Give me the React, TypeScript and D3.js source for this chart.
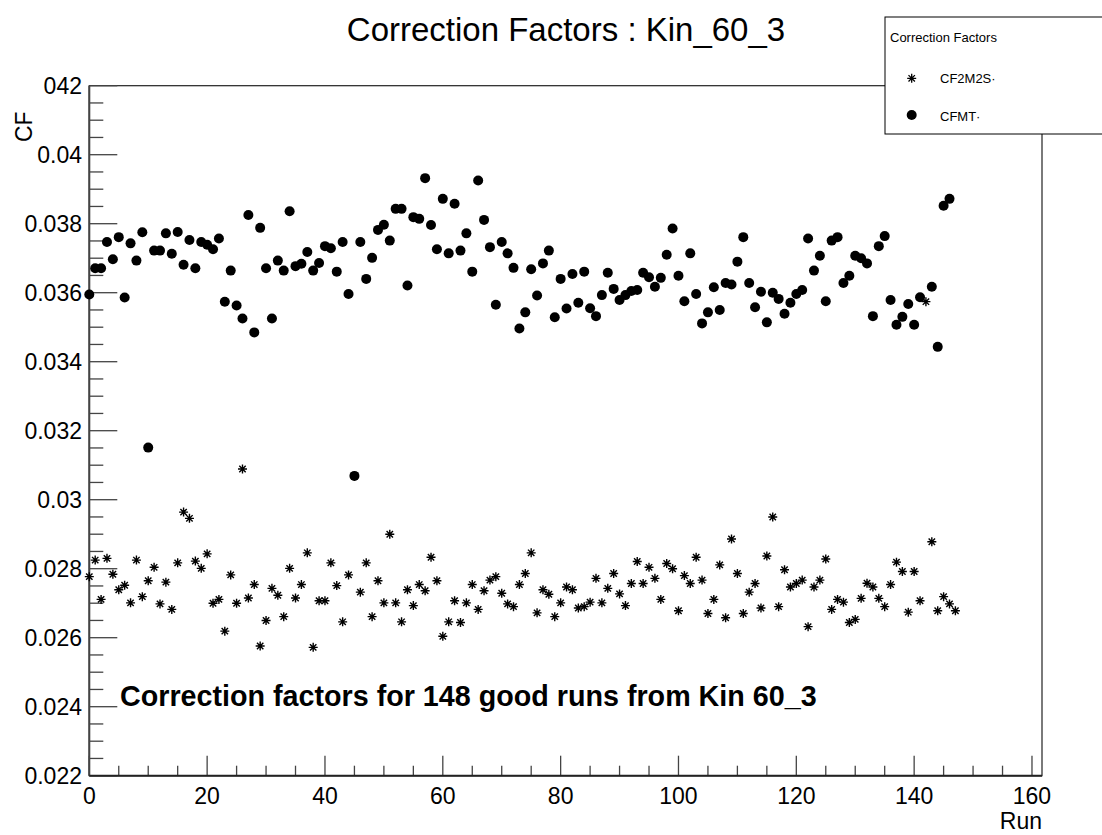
import React from "react";
import * as d3 from "d3";

// Correction factors per good run (index = run number)
const CF2M2S: (number | null)[] = [
  0.02777, 0.02825, 0.02711, 0.0283, 0.02784, 0.02739, 0.02752, 0.02701, 0.02825, 0.02719,
  0.02765, 0.02804, 0.02698, 0.02761, 0.02682, 0.02817, 0.02964, 0.02946, 0.02822, 0.02801,
  0.02843, 0.027, 0.02711, 0.02619, 0.02782, 0.027, 0.03089, 0.02715, 0.02754, 0.02576,
  0.0265, 0.02743, 0.02723, 0.02661, 0.02801, 0.02715, 0.02754, 0.02846, 0.02572, 0.02707,
  0.02707, 0.02817, 0.02751, 0.02646, 0.02782, 0.03069, 0.02732, 0.02817, 0.02661, 0.02765,
  0.02701, 0.029, 0.02701, 0.02646, 0.02739, 0.02693, 0.02754, 0.02736, 0.02833, 0.02765,
  0.02604, 0.02646, 0.02707, 0.02644, 0.02701, 0.02754, 0.02682, 0.02736, 0.02767, 0.02777,
  0.02729, 0.02698, 0.0269, 0.02754, 0.02786, 0.02846, 0.02672, 0.02739, 0.02726, 0.02661,
  0.02701, 0.02747, 0.02739, 0.02686, 0.0269, 0.02703, 0.02772, 0.02701, 0.02743, 0.02786,
  0.02727, 0.02693, 0.02757, 0.02821, 0.02757, 0.02804, 0.02772, 0.02711, 0.02815, 0.028,
  0.02678, 0.0278, 0.02757, 0.02833, 0.02767, 0.0267, 0.02711, 0.02811, 0.02658, 0.02886,
  0.02786, 0.0267, 0.02732, 0.02757, 0.02686, 0.02837, 0.0295, 0.0269, 0.02797, 0.02747,
  0.02757, 0.02767, 0.02632, 0.02747, 0.02767, 0.02828, 0.02682, 0.02711, 0.02703, 0.02644,
  0.02653, 0.02714, 0.02758, 0.02747, 0.02714, 0.0269, 0.02754, 0.02819, 0.02792, 0.02674,
  0.02792, 0.02707, 0.03574, 0.02878, 0.02678, 0.02719, 0.02698, 0.02678,
];

const CFMT: (number | null)[] = [
  0.03595, 0.03671, 0.03671, 0.03747, 0.03697, 0.03761, 0.03586, 0.03743, 0.03693, 0.03775,
  0.03151, 0.03722, 0.03722, 0.03772, 0.03713, 0.03776, 0.03681, 0.03753, 0.03671, 0.03747,
  0.03739, 0.03726, 0.03757, 0.03574, 0.03664, 0.03563, 0.03525, 0.03825, 0.03485, 0.03788,
  0.03671, 0.03525, 0.03693, 0.03664, 0.03836, 0.03677, 0.03684, 0.03718, 0.03664, 0.03686,
  0.03735, 0.03729, 0.03661, 0.03747, 0.03596, 0.03069, 0.03747, 0.0364, 0.03701, 0.03782,
  0.03797, 0.03751, 0.03843, 0.03843, 0.03621, 0.03819, 0.03814, 0.03932, 0.03796, 0.03726,
  0.03872, 0.03714, 0.03858, 0.03722, 0.03772, 0.03661, 0.03925, 0.03811, 0.03732, 0.03565,
  0.03747, 0.03714, 0.03672, 0.03496, 0.03543, 0.03668, 0.03592, 0.03685, 0.03722, 0.03529,
  0.0364, 0.03554, 0.03654, 0.03571, 0.03661, 0.03555, 0.03532, 0.03593, 0.03658, 0.03611,
  0.03579, 0.03593, 0.03605, 0.03608, 0.03658, 0.03645, 0.03617, 0.03643, 0.0371, 0.03786,
  0.03649, 0.03575, 0.03714, 0.03596, 0.03511, 0.03543, 0.03616, 0.0355, 0.03628, 0.03624,
  0.0369, 0.03761, 0.03628, 0.03558, 0.03603, 0.03514, 0.036, 0.03582, 0.03539, 0.03571,
  0.03596, 0.03608, 0.03757, 0.03664, 0.03707, 0.03575, 0.03751, 0.03761, 0.03628, 0.03649,
  0.03707, 0.037, 0.03685, 0.03532, 0.03735, 0.03764, 0.03579, 0.03507, 0.0353, 0.03567,
  0.03507, 0.03587, null, 0.03617, 0.03443, 0.03852, 0.03872, null,
];

const X_TICKS = [0, 20, 40, 60, 80, 100, 120, 140, 160];
const X_TICK_LABELS = ["0", "20", "40", "60", "80", "100", "120", "140", "160"];
const Y_TICKS = [0.022, 0.024, 0.026, 0.028, 0.03, 0.032, 0.034, 0.036, 0.038, 0.04, 0.042];
const Y_TICK_LABELS = ["0.022", "0.024", "0.026", "0.028", "0.03", "0.032", "0.034", "0.036", "0.038", "0.04", "0.042"];

const TITLE = "Correction Factors : Kin_60_3";
const NOTE = "Correction factors for 148 good runs from Kin 60_3";
const LEGEND_TITLE = "Correction Factors";
const SERIES_NAMES = ["CF2M2S\u00b7", "CFMT\u00b7"];

const W = 1102;
const H = 835;
const FRAME = { left: 89.3, right: 1042, top: 85.7, bottom: 775.7 };
const FONT = "'Liberation Sans', Arial, Helvetica, sans-serif";
const AXIS = "#444";

const STAR = "M-4.5,0H4.5M0,-4.5V4.5M-3.2,-3.2L3.2,3.2M-3.2,3.2L3.2,-3.2";

export default function App() {
  const x = d3.scaleLinear().domain([0, 161.7]).range([FRAME.left, FRAME.right]);
  const y = d3.scaleLinear().domain([0.022, 0.042]).range([FRAME.bottom, FRAME.top]);

  const xMinor = d3.range(0, 161, 5);
  const yMinor = d3.range(0, 41).map((k) => 0.022 + k * 0.0005);

  const stars = CF2M2S.map((v, i) => ({ i, v })).filter((d) => d.v !== null) as { i: number; v: number }[];
  const dots = CFMT.map((v, i) => ({ i, v })).filter((d) => d.v !== null) as { i: number; v: number }[];

  return (
    <svg
      width={W}
      height={H}
      style={{ position: "absolute", left: 0, top: 0, background: "#fff" }}
      fontFamily={FONT}
    >
      <rect x={0} y={0} width={W} height={H} fill="#fff" />

      {/* frame */}
      <rect
        x={FRAME.left}
        y={FRAME.top}
        width={FRAME.right - FRAME.left}
        height={FRAME.bottom - FRAME.top}
        fill="none"
        stroke="#222"
        strokeWidth={1.2}
      />

      {/* y ticks */}
      {yMinor.map((v, k) => (
        <line
          key={"ym" + k}
          x1={FRAME.left}
          x2={FRAME.left + (k % 4 === 0 ? 28 : 14)}
          y1={y(v)}
          y2={y(v)}
          stroke={AXIS}
          strokeWidth={1.3}
        />
      ))}
      {/* x ticks */}
      {xMinor.map((v, k) => (
        <line
          key={"xm" + k}
          x1={x(v)}
          x2={x(v)}
          y1={FRAME.bottom}
          y2={FRAME.bottom - (k % 4 === 0 ? 20 : 10)}
          stroke={AXIS}
          strokeWidth={1.3}
        />
      ))}

      {/* axis lines */}
      <line x1={FRAME.left} x2={FRAME.left} y1={FRAME.top} y2={FRAME.bottom} stroke={AXIS} strokeWidth={2} />
      <line x1={FRAME.left} x2={FRAME.right} y1={FRAME.bottom} y2={FRAME.bottom} stroke="#222" strokeWidth={2} />

      {/* y tick labels */}
      {Y_TICKS.map((v, k) => (
        <text
          key={"yl" + k}
          x={82}
          y={y(v) + 8}
          textAnchor="end"
          fontSize={23}
          fill="#000"
        >
          {Y_TICK_LABELS[k]}
        </text>
      ))}
      {/* x tick labels */}
      {X_TICKS.map((v, k) => (
        <text key={"xl" + k} x={x(v)} y={804} textAnchor="middle" fontSize={23} fill="#000">
          {X_TICK_LABELS[k]}
        </text>
      ))}

      {/* y axis title over the top label */}
      <rect x={20} y={76} width={23} height={24} fill="#fff" />
      <text transform="translate(32,142) rotate(-90)" fontSize={23} fill="#000">
        CF
      </text>

      {/* x axis title */}
      <text x={FRAME.right} y={829} textAnchor="end" fontSize={23} fill="#000">
        Run
      </text>

      {/* CF2M2S markers */}
      {stars.map((d) => (
        <path
          key={"s" + d.i}
          d={STAR}
          transform={`translate(${x(d.i)},${y(d.v)})`}
          stroke="#000"
          strokeWidth={1.4}
          fill="none"
        />
      ))}
      {/* CFMT markers */}
      {dots.map((d) => (
        <circle key={"c" + d.i} cx={x(d.i)} cy={y(d.v)} r={5} fill="#000" />
      ))}

      {/* annotation */}
      <text x={120} y={706} fontSize={28.7} fontWeight="bold" fill="#000">
        {NOTE}
      </text>

      {/* title */}
      <text x={566} y={41} textAnchor="middle" fontSize={33} fill="#000">
        {TITLE}
      </text>

      {/* legend */}
      <rect x={885} y={17} width={230} height={117} fill="#fff" stroke="#000" strokeWidth={1} />
      <text x={890} y={42} fontSize={13} fill="#000">
        {LEGEND_TITLE}
      </text>
      <path d={STAR} transform="translate(911.7,78.3)" stroke="#000" strokeWidth={1.3} fill="none" />
      <text x={940} y={83} fontSize={13} fill="#000">
        {SERIES_NAMES[0]}
      </text>
      <circle cx={911.7} cy={115} r={5} fill="#000" />
      <text x={940} y={121} fontSize={13} fill="#000">
        {SERIES_NAMES[1]}
      </text>
    </svg>
  );
}
